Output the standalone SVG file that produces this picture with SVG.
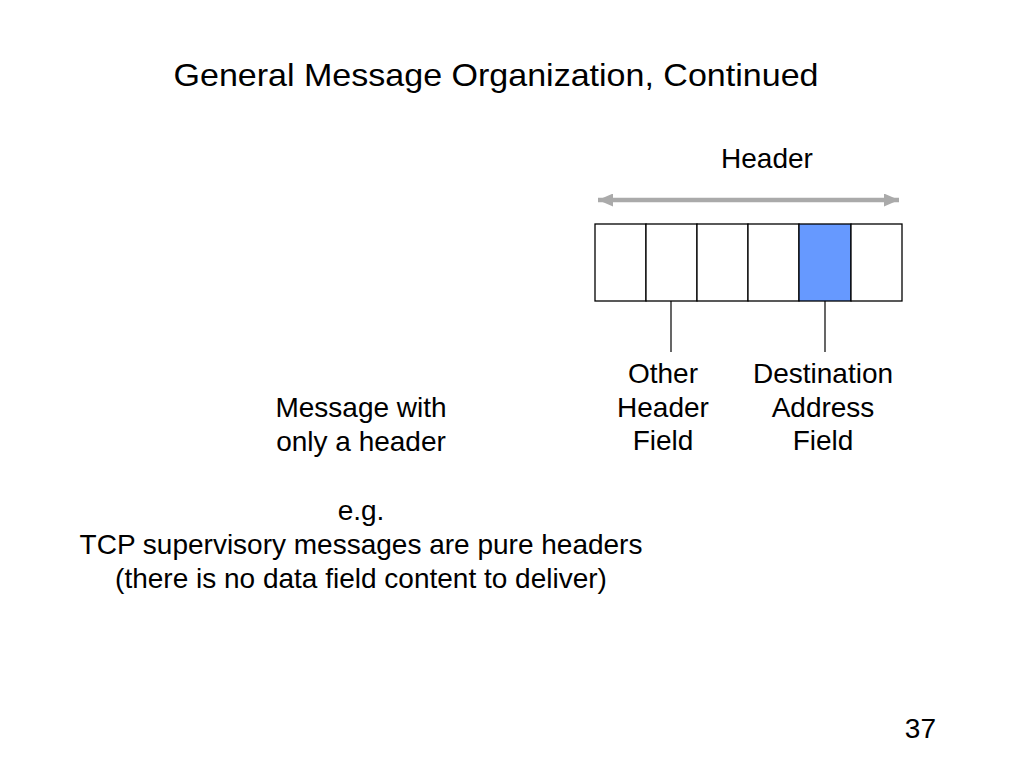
<svg xmlns="http://www.w3.org/2000/svg" width="1024" height="768" viewBox="0 0 1024 768">
<defs>
<style>
text{font-family:"Liberation Sans",Arial,sans-serif;fill:#000;text-anchor:middle}
.t{font-size:32px}
.b{font-size:28px}
.cell{fill:#fff;stroke:#000;stroke-width:1.3}
.dst{fill:#6699ff}
.lead{stroke:#000;stroke-width:1.2;fill:none}
</style>
<marker id="ah" viewBox="0 0 15 13" refX="15" refY="6.5" markerWidth="15" markerHeight="13" orient="auto-start-reverse" markerUnits="userSpaceOnUse">
<path d="M0,0 L15,6.5 L0,13 z" fill="#aaaaaa"/>
</marker>
</defs>
<rect width="1024" height="768" fill="#fff"/>
<text class="t" x="496" y="86" textLength="645" lengthAdjust="spacingAndGlyphs">General Message Organization, Continued</text>
<g id="header-label"><text class="b" x="767" y="168">Header</text></g>
<g id="connectors">
<line x1="598" y1="200" x2="899" y2="200" stroke="#aaaaaa" stroke-width="4.5" marker-start="url(#ah)" marker-end="url(#ah)"/>
<line class="lead" x1="671" y1="277" x2="671" y2="352"/>
<line class="lead" x1="825" y1="277" x2="825" y2="352" stroke="#555"/>
</g>
<g id="header-fields">
<rect class="cell" x="595" y="224" width="51" height="77"/>
<rect class="cell" x="646" y="224" width="51" height="77"/>
<rect class="cell" x="697" y="224" width="51" height="77"/>
<rect class="cell" x="748" y="224" width="51" height="77"/>
<rect class="cell dst" x="799" y="224" width="52" height="77"/>
<rect class="cell" x="851" y="224" width="51" height="77"/>
</g>
<g id="other-label"><text class="b" x="663" y="383">Other</text><text class="b" x="663" y="417">Header</text><text class="b" x="663" y="450">Field</text></g>
<g id="dest-label"><text class="b" x="823" y="383">Destination</text><text class="b" x="823" y="417">Address</text><text class="b" x="823" y="450">Field</text></g>
<g id="msg-label"><text class="b" x="361" y="417">Message with</text><text class="b" x="361" y="451">only a header</text></g>
<g id="example"><text class="b" x="361" y="520">e.g.</text><text class="b" x="361" y="554">TCP supervisory messages are pure headers</text><text class="b" x="361" y="588">(there is no data field content to deliver)</text></g>
<text class="b" x="936" y="738" style="text-anchor:end">37</text>
</svg>
